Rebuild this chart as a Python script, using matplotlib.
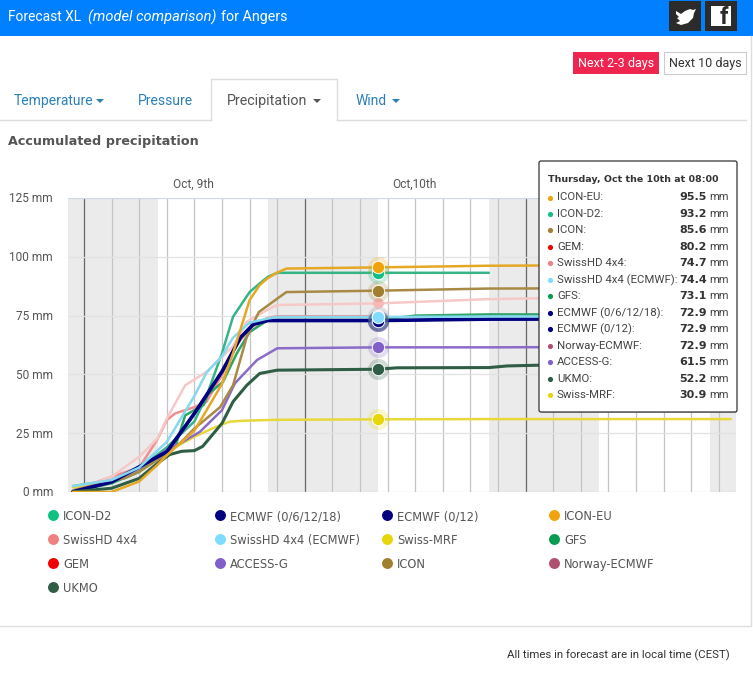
import matplotlib
matplotlib.use("Agg")
import matplotlib.pyplot as plt
from matplotlib.patches import Rectangle, Polygon, FancyBboxPatch

W, H = 753, 687
plt.rcParams['font.family'] = ['Roboto', 'DejaVu Sans']

# value rows of the chart: hours after Oct 9 00:00, mm accumulated
h_d2 = [-1.2, 3, 6, 9, 12, 13.3, 15, 16.2, 18, 19.1, 20, 21, 24, 32, 44]
v_d2 = [2.5, 5, 10, 19, 30, 40.6, 59, 74.5, 85, 88.7, 91.5, 93.2, 93.2, 93.2, 93.2]
h_ec = [-1.2, 3, 6, 9, 12, 15, 17, 18.4, 20, 21, 32, 44, 60]
v_ec = [0.1, 4.3, 10.7, 17.1, 33.4, 51.2, 65.6, 71.3, 72.9, 72.9, 72.9, 73.5, 73.6]
h_eu = [-1.2, 3, 6, 8, 9, 12, 13.3, 15, 16.2, 18, 19.1, 20, 21, 22, 32, 44, 56, 70]
v_eu = [0, 0, 4.5, 11.6, 15.6, 26.1, 34.6, 46, 59, 81.6, 88, 91, 93.3, 95, 95.5, 96.2, 96.4, 97.5]
h_shd = [-1.2, 3, 6, 8, 9, 9.9, 12, 13.3, 15, 16.2, 18, 19.9, 21, 32]
v_shd = [0.6, 6.5, 10.4, 22.5, 30.6, 33.4, 36.1, 38.3, 49.7, 60.4, 69.6, 73.9, 74.7, 74.7]
h_she = [-1.2, 3, 6, 9, 12, 13.3, 15, 16.2, 18, 19.9, 21, 32, 44, 60]
v_she = [2.5, 5.1, 10.4, 21.3, 40.8, 50.7, 57.8, 65.6, 72, 73.7, 74.4, 74.4, 74.6, 74.6]
h_mrf = [-1.2, 3, 6, 9, 12, 14, 15.8, 17.3, 21, 32, 44, 60, 70.3]
v_mrf = [2, 4.7, 9.4, 17.1, 23.5, 27.1, 29.9, 30.3, 30.7, 30.9, 31, 31, 31]
h_gfs = [-1.2, 3, 6, 8, 9.9, 11, 13, 13.5, 15.1, 16.6, 18, 19.9, 21, 32, 36, 44, 60]
v_gfs = [0.1, 3.7, 8.6, 15, 19, 32.6, 37, 41.6, 46.8, 58.9, 68, 72.9, 73.1, 73.1, 75, 75.5, 75.5]
h_gem = [-1.2, 3, 6, 8, 9, 11, 13.3, 16.2, 17.7, 19.9, 21, 32, 44, 56, 70]
v_gem = [0.1, 6.5, 15, 22.8, 31.2, 45.4, 51, 62, 72.4, 77.4, 79.5, 80.2, 82, 82.8, 83]
h_acc = [-1.2, 3, 6, 9, 10.4, 12.6, 15, 16.4, 18.8, 21, 32, 44, 60, 70]
v_acc = [0.1, 4.3, 10, 17.9, 20.6, 25.6, 34.8, 46.2, 56.1, 61.1, 61.5, 61.5, 61.7, 61.7]
h_icon = [-1.2, 3, 4.4, 6, 8.2, 10.4, 12, 13.3, 14.8, 16.2, 17.7, 19, 21, 22, 32, 44, 56, 70]
v_icon = [0.6, 5.1, 5.8, 8.6, 14.2, 20.6, 27, 31.2, 36.1, 45.4, 66, 76.5, 82.2, 85, 85.6, 86.5, 86.6, 87]
h_uk = [-1.2, 3, 6, 8, 9.3, 10.6, 12, 12.9, 15, 16.2, 17.7, 19.1, 21, 32, 34, 44, 46, 56, 60]
v_uk = [0.1, 1.6, 5.8, 12.2, 15.9, 17.3, 17.6, 19.4, 29.2, 38.4, 45.4, 50.4, 51.8, 52.2, 52.8, 52.9, 53.6, 54.5, 55]

yticks = [0, 25, 50, 75, 100, 125]
hover_h = 32

# name, hours, values, tooltip value, legend colour, line colour, line width
lines = [
    ("ICON-D2", h_d2, v_d2, 93.2, "#10c080", "#35b585", 1.8),
    ("Norway-ECMWF", h_ec, v_ec, 72.9, "#b05070", "#b05070", 1.0),
    ("SwissHD 4x4", h_shd, v_shd, 74.7, "#f08080", "#ee9090", 1.8),
    ("Swiss-MRF", h_mrf, v_mrf, 30.9, "#e6d60a", "#e8d83a", 1.8),
    ("GFS", h_gfs, v_gfs, 73.1, "#0a9b50", "#2fa468", 1.8),
    ("GEM", h_gem, v_gem, 80.2, "#f00000", "#f7c8c8", 1.8),
    ("ACCESS-G", h_acc, v_acc, 61.5, "#8060c8", "#8a6cc8", 1.8),
    ("ICON", h_icon, v_icon, 85.6, "#a08030", "#a88a45", 1.8),
    ("ECMWF (0/12)", h_ec, v_ec, 72.9, "#000080", "#000080", 1.8),
    ("ECMWF (0/6/12/18)", h_ec, v_ec, 72.9, "#000080", "#000080", 2.6),
    ("SwissHD 4x4 (ECMWF)", h_she, v_she, 74.4, "#7fdbff", "#85d8ee", 1.8),
    ("UKMO", h_uk, v_uk, 52.2, "#2f5d46", "#2f5d46", 2.2),
    ("ICON-EU", h_eu, v_eu, 95.5, "#f0a30a", "#e5a825", 1.8),
]
colors = {l[0]: l[4] for l in lines}
vals = {l[0]: l[3] for l in lines}

legend_rows = [
    ["ICON-D2", "ECMWF (0/6/12/18)", "ECMWF (0/12)", "ICON-EU"],
    ["SwissHD 4x4", "SwissHD 4x4 (ECMWF)", "Swiss-MRF", "GFS"],
    ["GEM", "ACCESS-G", "ICON", "Norway-ECMWF"],
    ["UKMO"],
]
tip_order = ["ICON-EU", "ICON-D2", "ICON", "GEM", "SwissHD 4x4", "SwissHD 4x4 (ECMWF)", "GFS",
             "ECMWF (0/6/12/18)", "ECMWF (0/12)", "Norway-ECMWF", "ACCESS-G", "UKMO", "Swiss-MRF"]

fig = plt.figure(figsize=(W / 100, H / 100), dpi=100)

# page furniture is drawn in pixel coordinates
pg = fig.add_axes([0, 0, 1, 1])
pg.set_xlim(0, W)
pg.set_ylim(H, 0)
pg.axis("off")

pg.add_patch(Rectangle((0, 0), W, 36, fc="#0080ff", ec="none"))
pg.text(8, 17, "Forecast XL", color="white", fontsize=9.9, va="center")
pg.text(88, 17, "(model comparison)", color="white", fontsize=10.5, va="center", style="italic")
pg.text(221, 17, "for Angers", color="white", fontsize=10.3, va="center")
pg.add_patch(Rectangle((669, 1), 32, 30, fc="#2b2b2b", ec="none"))
pg.add_patch(Rectangle((705, 1), 32, 30, fc="#2b2b2b", ec="none"))
pg.add_patch(Polygon([(676, 11), (681, 14), (685, 11), (690, 9), (693, 10), (696, 9), (694, 13),
                      (693, 18), (688, 23), (681, 25), (676, 23), (680, 21), (677, 18), (679, 17), (676, 14)],
                     fc="white", ec="none"))
pg.add_patch(Rectangle((711, 6), 20, 20, fc="white", ec="none"))
pg.text(724, 17.5, "f", color="#2b2b2b", fontsize=17, fontweight="bold", ha="center", va="center")

pg.add_patch(Rectangle((573.5, 52), 85.5, 22, fc="#f0254f", ec="none"))
pg.text(616, 64, "Next 2-3 days", color="white", fontsize=9, ha="center", va="center")
pg.add_patch(Rectangle((664, 52), 82, 22, fc="white", ec="#cccccc", lw=0.8))
pg.text(705, 64, "Next 10 days", color="#333333", fontsize=9, ha="center", va="center")

pg.plot([0, 211], [120, 120], color="#dddddd", lw=1)
pg.plot([337, 746], [120, 120], color="#dddddd", lw=1)
pg.plot([211, 211, 337, 337], [120, 79, 79, 120], color="#dddddd", lw=1)
pg.text(14, 101, "Temperature", color="#2a80b9", fontsize=10, va="center")
pg.add_patch(Polygon([(96, 99), (104, 99), (100, 103)], fc="#2a80b9", ec="none"))
pg.text(138, 101, "Pressure", color="#2a80b9", fontsize=10, va="center")
pg.text(227, 101, "Precipitation", color="#555555", fontsize=10.3, va="center")
pg.add_patch(Polygon([(313, 99), (321, 99), (317, 103)], fc="#555555", ec="none"))
pg.text(356, 101, "Wind", color="#2a80b9", fontsize=10, va="center")
pg.add_patch(Polygon([(392, 99), (400, 99), (396, 103)], fc="#2a80b9", ec="none"))

pg.text(8, 142, "Accumulated precipitation", color="#555555", fontsize=9.2, fontweight="bold",
        family="DejaVu Sans", va="center")

pg.plot([0, 751, 751], [626, 626, 36], color="#dddddd", lw=1)
pg.text(730, 655.5, "All times in forecast are in local time (CEST)", color="#333333", fontsize=8.2,
        ha="right", va="center")

# chart
ax = fig.add_axes([68 / W, 1 - 492 / H, (736 - 68) / W, (492 - 198) / H])
ax.set_xlim(-1.74, 70.87)
ax.set_ylim(0, 125)
ax.patch.set_alpha(0)
for s in ax.spines.values():
    s.set_visible(False)
ax.tick_params(left=False, bottom=False, labelbottom=False, labelleft=False)

for start, end in [(-2, 8), (20, 32), (44, 56), (68, 71)]:
    ax.axvspan(start, end, color="#ebebeb", lw=0, zorder=0)
for t in range(0, 72, 3):
    col = "#666666" if t % 24 == 0 else "#c4c4c4"
    ax.axvline(t, color=col, lw=0.9, zorder=1)
for y in yticks:
    col = "#cfd8e6" if y in (0, 125) else "#e2e2e2"
    ax.axhline(y, color=col, lw=0.9, zorder=1)
    pg.text(53, 493 - y * 2.352, f"{y} mm", color="#555555", fontsize=8.6, ha="right", va="center")

pg.text(193, 184.5, "Oct, 9th", color="#555555", fontsize=8.6, ha="center", va="center")
pg.text(414, 184.5, "Oct,10th", color="#555555", fontsize=8.6, ha="center", va="center")

for i, (name, hrs, mm, val, mc, lc, lw) in enumerate(lines):
    ax.plot(hrs, mm, color=lc, lw=lw, zorder=3 + i * 0.01, solid_capstyle="round")

# hover markers on the 08:00 point
for i, (name, hrs, mm, val, mc, lc, lw) in enumerate(lines):
    if name == "GEM":
        ax.scatter([hover_h], [val], s=60, color="#f7b8b8", lw=0, zorder=4, clip_on=False)
        continue
    ax.scatter([hover_h], [val], s=230, color=mc, alpha=0.22, lw=0, zorder=4)
order = ["Swiss-MRF", "UKMO", "ACCESS-G", "ICON-D2", "ECMWF (0/6/12/18)", "SwissHD 4x4", "ICON", "ICON-EU", "SwissHD 4x4 (ECMWF)"]
for i, name in enumerate(order):
    ax.scatter([hover_h], [vals[name]], s=80, color=colors[name], ec="white", lw=0.7, zorder=5 + i * 0.01)

# legend
col_x = [53, 220, 387, 554]
row_y = [516, 540, 564, 588]
for r, row in enumerate(legend_rows):
    for c, name in enumerate(row):
        pg.scatter([col_x[c]], [row_y[r] - 1], s=62, color=colors[name], lw=0)
        pg.text(col_x[c] + 10, row_y[r] + 0.5, name, color="#555555", fontsize=8.3, va="center", family="DejaVu Sans")

# tooltip, above the chart axes
tp = fig.add_axes([0, 0, 1, 1], zorder=10)
tp.set_xlim(0, W)
tp.set_ylim(H, 0)
tp.axis("off")
tp.add_patch(FancyBboxPatch((541, 163), 196, 250, boxstyle="round,pad=0,rounding_size=2", fc="#999999", ec="none", alpha=0.5))
tp.add_patch(FancyBboxPatch((539, 161), 198, 251, boxstyle="round,pad=0,rounding_size=2", fc="white", ec="#333333", lw=0.9))
tp.text(548, 180, "Thursday, Oct the 10th at 08:00", color="#333333", fontsize=6.8, fontweight="bold",
        family="DejaVu Sans", va="center")
for i, name in enumerate(tip_order):
    y = 197.5 + i * 16.47
    tp.scatter([550], [y], s=14, color=colors[name], lw=0)
    tp.text(557, y, name + ":", color="#444444", fontsize=8.2, va="center")
    tp.text(707, y, f"{vals[name]:.1f}", color="#333333", fontsize=8, fontweight="bold",
            family="DejaVu Sans", ha="right", va="center")
    tp.text(728.5, y, "mm", color="#444444", fontsize=8, ha="right", va="center")

fig.savefig("out.png", dpi=100)
